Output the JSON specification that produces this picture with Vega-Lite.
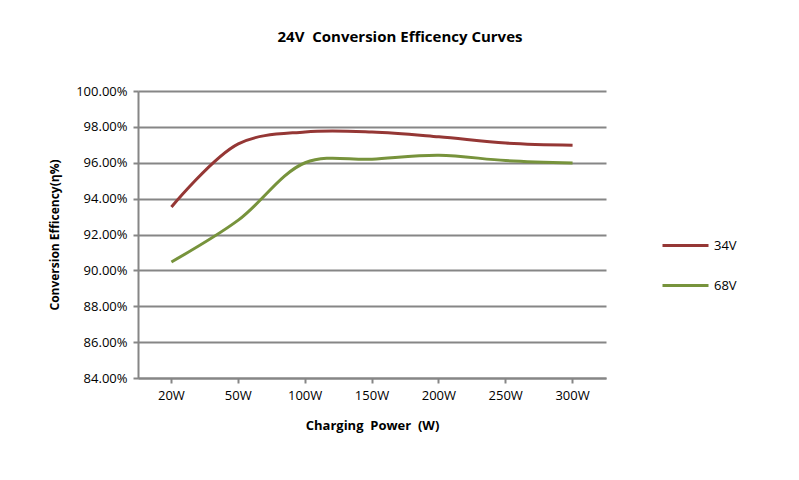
{
  "$schema": "https://vega.github.io/schema/vega-lite/v6.json",
  "width": 468,
  "height": 287,
  "autosize": {"type": "none"},
  "padding": {"left": 138, "top": 91, "right": 193, "bottom": 102},
  "background": "white",
  "config": {
    "font": "Open Sans",
    "view": {"stroke": null}
  },
  "title": {
    "text": "24V\u00a0\u00a0Conversion Efficency Curves",
    "font": "Open Sans",
    "fontSize": 15,
    "fontWeight": "bold",
    "color": "#000000",
    "anchor": "middle",
    "frame": "group",
    "dx": 28,
    "offset": 40
  },
  "data": {
    "values": [
      {"power": "20W", "eff": 93.53, "series": "34V"},
      {"power": "50W", "eff": 97.05, "series": "34V"},
      {"power": "100W", "eff": 97.72, "series": "34V"},
      {"power": "150W", "eff": 97.72, "series": "34V"},
      {"power": "200W", "eff": 97.45, "series": "34V"},
      {"power": "250W", "eff": 97.1, "series": "34V"},
      {"power": "300W", "eff": 96.98, "series": "34V"},
      {"power": "20W", "eff": 90.47, "series": "68V"},
      {"power": "50W", "eff": 92.8, "series": "68V"},
      {"power": "100W", "eff": 96.0, "series": "68V"},
      {"power": "150W", "eff": 96.2, "series": "68V"},
      {"power": "200W", "eff": 96.42, "series": "68V"},
      {"power": "250W", "eff": 96.12, "series": "68V"},
      {"power": "300W", "eff": 95.98, "series": "68V"}
    ]
  },
  "mark": {"type": "line", "interpolate": "catmull-rom", "strokeWidth": 3},
  "encoding": {
    "x": {
      "field": "power",
      "type": "ordinal",
      "sort": ["20W", "50W", "100W", "150W", "200W", "250W", "300W"],
      "scale": {"type": "band", "paddingInner": 0, "paddingOuter": 0},
      "axis": {
        "title": "Charging\u00a0\u00a0Power\u00a0\u00a0(W)",
        "titleFont": "Open Sans",
        "titleFontSize": 13,
        "titleFontWeight": "bold",
        "titleColor": "#000000",
        "titlePadding": 17,
        "labelAngle": 0,
        "labelFont": "Open Sans",
        "labelFontSize": 13,
        "labelColor": "#000000",
        "labelPadding": 6,
        "domainColor": "#868686",
        "domainWidth": 2,
        "tickColor": "#868686",
        "tickWidth": 2,
        "tickSize": 5,
        "grid": false
      }
    },
    "y": {
      "field": "eff",
      "type": "quantitative",
      "scale": {"domain": [84, 100], "nice": false, "zero": false},
      "axis": {
        "values": [84, 86, 88, 90, 92, 94, 96, 98, 100],
        "labelExpr": "format(datum.value, '.2f') + '%'",
        "title": "Conversion Efficency(η%)",
        "titleFont": "Open Sans",
        "titleFontSize": 12,
        "titleFontWeight": "bold",
        "titleColor": "#000000",
        "titlePadding": 14,
        "labelFont": "Open Sans",
        "labelFontSize": 13,
        "labelColor": "#000000",
        "labelPadding": 6,
        "domainColor": "#868686",
        "domainWidth": 2,
        "tickColor": "#868686",
        "tickWidth": 2,
        "tickSize": 5,
        "grid": true,
        "gridColor": "#868686",
        "gridWidth": 2
      }
    },
    "color": {
      "field": "series",
      "type": "nominal",
      "scale": {"domain": ["34V", "68V"], "range": ["#953735", "#77933C"]},
      "legend": {
        "title": null,
        "orient": "none",
        "legendX": 523,
        "legendY": 130,
        "symbolType": "stroke",
        "symbolSize": 2116,
        "symbolStrokeWidth": 3,
        "labelFont": "Open Sans",
        "labelFontSize": 13,
        "labelColor": "#000000",
        "labelOffset": 4,
        "rowPadding": 8
      }
    }
  }
}
